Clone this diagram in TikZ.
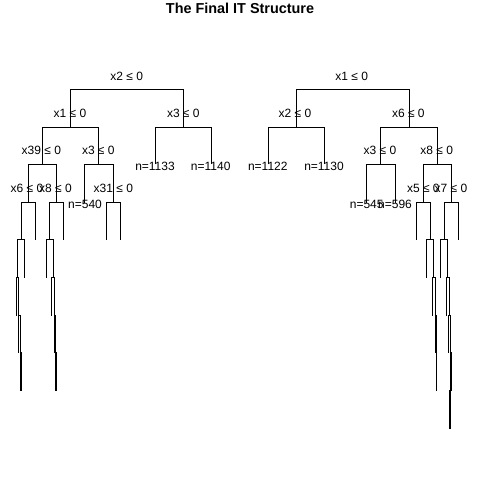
\documentclass[tikz,border=0pt]{standalone}
\usepackage{fontspec}
\setmainfont{Liberation Sans}
\begin{document}
\begin{tikzpicture}[x=1bp,y=-1bp,
  edge/.style={line width=1bp, line join=miter},
  lbl/.style={inner sep=0pt, font=\fontsize{12bp}{14bp}\selectfont, text height=8.6bp, text depth=0pt},
  ttl/.style={inner sep=0pt, font=\fontsize{14.4bp}{17bp}\selectfont\bfseries, text height=10.3bp, text depth=0pt}]
\useasboundingbox (0,0) rectangle (480,480);
\node[ttl] (title) at (240,8) {The Final IT Structure};
% ---------- left tree ----------
\coordinate (L0) at (126.5,89.5);
\coordinate (A) at (70.5,127.5);
\coordinate (B) at (183.5,127.5);
\coordinate (C) at (42.5,164.5);
\coordinate (D) at (98.5,164.5);
\coordinate (Bl) at (155.5,164.5);
\coordinate (Br) at (211.5,164.5);
\coordinate (E) at (28.5,202.5);
\coordinate (F) at (56.5,202.5);
\coordinate (Dl) at (84.5,202.5);
\coordinate (G) at (113.5,202.5);
\coordinate (E1) at (21.5,239.5);
\coordinate (Er) at (35.5,239.5);
\coordinate (F1) at (49.5,239.5);
\coordinate (Fr) at (63.5,239.5);
\coordinate (Gl) at (106.5,239.5);
\coordinate (Gr) at (120.5,239.5);
\coordinate (E2) at (17.5,277.5);
\coordinate (E1r) at (24.5,277.5);
\coordinate (E2l) at (16.5,315.5);
\coordinate (E3) at (18.5,315.5);
\coordinate (E3l) at (18.5,352.5);
\coordinate (E4) at (20.5,352.5);
\coordinate (E4l) at (20.5,390.5);
\coordinate (E4r) at (21.5,390.5);
\coordinate (F1l) at (46.5,277.5);
\coordinate (F2) at (53.5,277.5);
\coordinate (F2l) at (51.5,315.5);
\coordinate (F3) at (54.5,315.5);
\coordinate (F3l) at (54.5,352.5);
\coordinate (F4) at (55.5,352.5);
\coordinate (F4l) at (55.5,390.5);
\coordinate (F4r) at (56.5,390.5);
\draw[edge] (A) |- (L0) -| (B);
\draw[edge] (C) |- (A) -| (D);
\draw[edge] (Bl) |- (B) -| (Br);
\draw[edge] (E) |- (C) -| (F);
\draw[edge] (Dl) |- (D) -| (G);
\draw[edge] (E1) |- (E) -| (Er);
\draw[edge] (F1) |- (F) -| (Fr);
\draw[edge] (Gl) |- (G) -| (Gr);
\draw[edge] (E2) |- (E1) -| (E1r);
\draw[edge] (E2l) |- (E2) -| (E3);
\draw[edge] (E3l) |- (E3) -| (E4);
\draw[edge] (E4l) |- (E4) -| (E4r);
\draw[edge] (F1l) |- (F1) -| (F2);
\draw[edge] (F2l) |- (F2) -| (F3);
\draw[edge] (F3l) |- (F3) -| (F4);
\draw[edge] (F4l) |- (F4) -| (F4r);
\node[lbl] (tL0) at (126.7,76.7) {x2 ≤ 0};
\node[lbl] (tA) at (70,113.3) {x1 ≤ 0};
\node[lbl] (tB) at (183.3,113.3) {x3 ≤ 0};
\node[lbl] (tC) at (41.3,150.7) {x39 ≤ 0};
\node[lbl] (tD) at (98.3,150.7) {x3 ≤ 0};
\node[lbl] (tBl) at (155,165.8) {n=1133};
\node[lbl] (tBr) at (210.7,165.8) {n=1140};
\node[lbl] (tE) at (27,188.3) {x6 ≤ 0};
\node[lbl] (tF) at (55.5,188.3) {x8 ≤ 0};
\node[lbl] (tDl) at (85,204) {n=540};
\node[lbl] (tG) at (113.3,188.3) {x31 ≤ 0};
% ---------- right tree ----------
\coordinate (R0) at (352.5,89.5);
\coordinate (H) at (296.5,127.5);
\coordinate (I) at (409.5,127.5);
\coordinate (Hl) at (268.5,164.5);
\coordinate (Hr) at (324.5,164.5);
\coordinate (J) at (380.5,164.5);
\coordinate (K) at (437.5,164.5);
\coordinate (Jl) at (366.5,202.5);
\coordinate (Jr) at (395.5,202.5);
\coordinate (L) at (423.5,202.5);
\coordinate (M) at (451.5,202.5);
\coordinate (Ll) at (416.5,239.5);
\coordinate (L1) at (430.5,239.5);
\coordinate (L1l) at (426.5,277.5);
\coordinate (L2) at (433.5,277.5);
\coordinate (L2l) at (432.5,315.5);
\coordinate (L3) at (435.5,315.5);
\coordinate (L3l) at (435.5,352.5);
\coordinate (L4) at (436.5,352.5);
\coordinate (L4l) at (436.5,390.5);
\coordinate (L4r) at (436.6,390.5);
\coordinate (M1) at (444.5,239.5);
\coordinate (Mr) at (458.5,239.5);
\coordinate (M1l) at (440.5,277.5);
\coordinate (M2) at (447.5,277.5);
\coordinate (M2l) at (446.5,315.5);
\coordinate (M3) at (449.5,315.5);
\coordinate (M3l) at (448.5,352.5);
\coordinate (M4) at (450.5,352.5);
\coordinate (M5) at (450.5,390.5);
\coordinate (M4r) at (451.5,390.5);
\coordinate (M5l) at (449.5,428.5);
\coordinate (M5r) at (450.5,428.5);
\draw[edge] (H) |- (R0) -| (I);
\draw[edge] (Hl) |- (H) -| (Hr);
\draw[edge] (J) |- (I) -| (K);
\draw[edge] (Jl) |- (J) -| (Jr);
\draw[edge] (L) |- (K) -| (M);
\draw[edge] (Ll) |- (L) -| (L1);
\draw[edge] (L1l) |- (L1) -| (L2);
\draw[edge] (L2l) |- (L2) -| (L3);
\draw[edge] (L3l) |- (L3) -| (L4);
\draw[edge] (L4l) |- (L4) -| (L4r);
\draw[edge] (M1) |- (M) -| (Mr);
\draw[edge] (M1l) |- (M1) -| (M2);
\draw[edge] (M2l) |- (M2) -| (M3);
\draw[edge] (M3l) |- (M3) -| (M4);
\draw[edge] (M5) |- (M4) -| (M4r);
\draw[edge] (M5l) |- (M5) -| (M5r);
\node[lbl] (tR0) at (351.7,76.7) {x1 ≤ 0};
\node[lbl] (tH) at (295,113.3) {x2 ≤ 0};
\node[lbl] (tI) at (408.3,113.3) {x6 ≤ 0};
\node[lbl] (tHl) at (267.8,165.8) {n=1122};
\node[lbl] (tHr) at (324,165.8) {n=1130};
\node[lbl] (tJ) at (380,150.7) {x3 ≤ 0};
\node[lbl] (tK) at (436.7,150.7) {x8 ≤ 0};
\node[lbl] (tJl) at (366.7,204) {n=545};
\node[lbl] (tJr) at (395,204) {n=596};
\node[lbl] (tL) at (423.3,188.3) {x5 ≤ 0};
\node[lbl] (tM) at (451,188.3) {x7 ≤ 0};
\end{tikzpicture}
\end{document}
